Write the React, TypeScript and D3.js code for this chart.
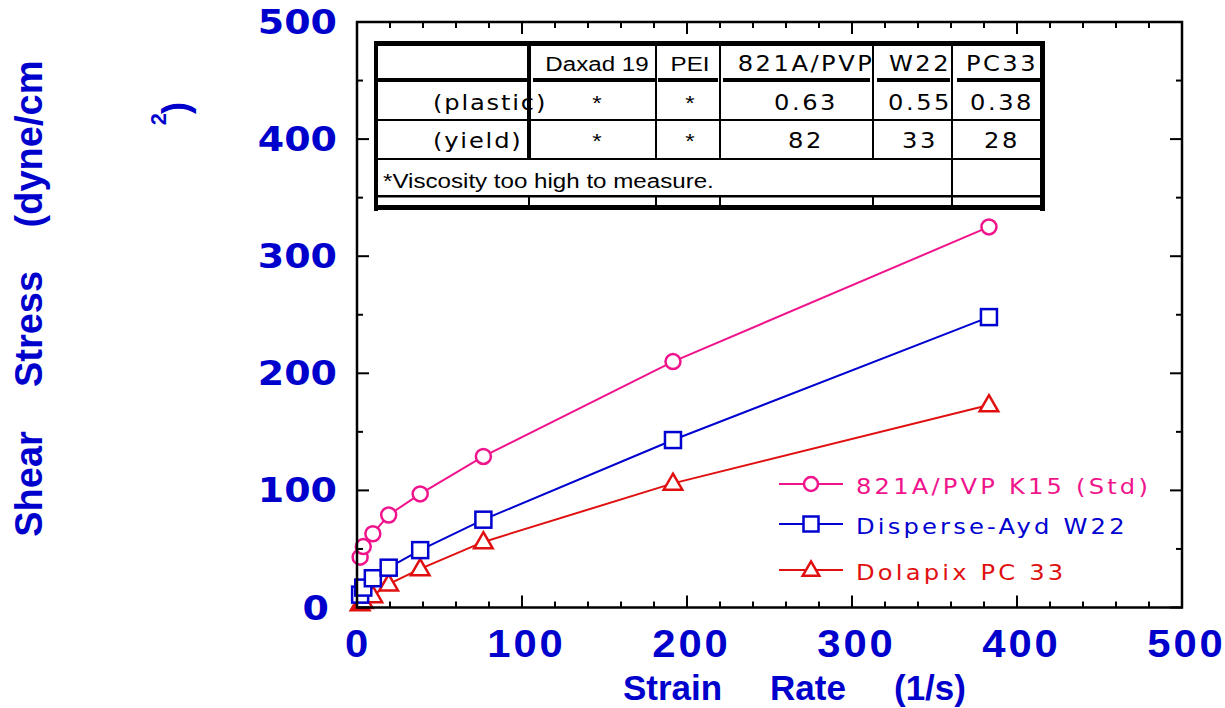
import * as d3 from "d3"

// strain rate (1/s) for each viscometer speed
const strainRate = [1.9, 3.8, 9.6, 19.2, 38.3, 76.6, 191.5, 383]
// shear stress (dyne/cm2)
const pvpK15 = [43, 52, 63, 79, 97, 129, 210, 325]
const disperseAyd = [11, 17, 25, 34, 49, 75, 143, 248]
const dolapix = [3, 5, 10, 20, 33, 56, 106, 173]
const seriesNames = ["821A/PVP K15 (Std)", "Disperse-Ayd W22", "Dolapix PC 33"]

const xTicks = [0, 100, 200, 300, 400, 500]
const yTicks = [0, 100, 200, 300, 400, 500]

const tableHeader = ["", "Daxad 19", "PEI", "821A/PVP", "W22", "PC33"]
const plasticRow = ["(plastic)", "*", "*", "0.63", "0.55", "0.38"]
const yieldRow = ["(yield)", "*", "*", "82", "33", "28"]
const footnote = "*Viscosity too high to measure."

const PINK = "#f0148c"
const BLUE = "#0000d0"
const RED = "#e01010"
const LABEL = "#0000cc"

const W = 1225
const H = 708

export default function App() {
  const x = d3.scaleLinear().domain([0, 500]).range([357, 1182])
  const y = d3.scaleLinear().domain([0, 500]).range([607.5, 22])
  const [x0, x1] = x.range()
  const [y0, y1] = y.range()

  const line = d3
    .line<[number, number]>()
    .x((d) => x(d[0]))
    .y((d) => y(d[1]))

  const tri = d3.symbol().type(d3.symbolTriangle).size(150)()
  const triSmall = d3.symbol().type(d3.symbolTriangle).size(120)()

  const series = [
    { name: seriesNames[2], values: dolapix, color: RED, marker: "triangle" },
    { name: seriesNames[1], values: disperseAyd, color: BLUE, marker: "square" },
    { name: seriesNames[0], values: pvpK15, color: PINK, marker: "circle" },
  ]

  const marker = (kind: string, color: string, cx: number, cy: number, small = false) => {
    const sw = 2.5
    if (kind === "circle")
      return <circle cx={cx} cy={cy} r={small ? 7 : 7.5} fill="white" stroke={color} strokeWidth={sw} />
    if (kind === "square") {
      const s = small ? 15 : 16
      return <rect x={cx - s / 2} y={cy - s / 2} width={s} height={s} fill="white" stroke={color} strokeWidth={sw} />
    }
    return (
      <path d={small ? triSmall! : tri!} transform={`translate(${cx},${cy + 1})`} fill="white" stroke={color} strokeWidth={sw} />
    )
  }

  // ticks (inward on all four sides)
  const xMinor = d3.range(0, 501, 20)
  const yMinor = d3.range(0, 501, 50)

  // table layout
  const tL = 376
  const tR = 1044
  const tTop = 42
  const colLines = [529, 656, 720, 873, 952]
  const colCenters = [0, 597, 690, 806, 920, 1002]
  const headSegs: [number, number][] = [
    [378, 529], [533, 655], [658, 718], [723, 870], [877, 950], [957, 1040],
  ]

  const legendRows = [
    { name: seriesNames[0], color: PINK, marker: "circle", y: 484 },
    { name: seriesNames[1], color: BLUE, marker: "square", y: 524 },
    { name: seriesNames[2], color: RED, marker: "triangle", y: 570 },
  ]

  return (
    <svg width={W} height={H} style={{ position: "absolute", left: 0, top: 0, background: "white" }}>
      {/* series */}
      {series.map((s) => (
        <g key={s.name}>
          <path
            d={line(strainRate.map((v, i) => [v, s.values[i]]))!}
            fill="none"
            stroke={s.color}
            strokeWidth={2}
          />
          {strainRate.map((v, i) => (
            <g key={i}>{marker(s.marker, s.color, x(v), y(s.values[i]))}</g>
          ))}
        </g>
      ))}

      {/* frame */}
      <rect x={x0} y={y1} width={x1 - x0} height={y0 - y1} fill="none" stroke="black" strokeWidth={2.5} />
      {xMinor.map((v) => {
        const len = v % 100 === 0 ? 12 : 6
        return (
          <g key={"xt" + v} stroke="black" strokeWidth={2}>
            <line x1={x(v)} x2={x(v)} y1={y0} y2={y0 - len} />
            <line x1={x(v)} x2={x(v)} y1={y1} y2={y1 + len} />
          </g>
        )
      })}
      {yMinor.map((v) => {
        const len = v % 100 === 0 ? 12 : 6
        return (
          <g key={"yt" + v} stroke="black" strokeWidth={2}>
            <line x1={x0} x2={x0 + len} y1={y(v)} y2={y(v)} />
            <line x1={x1} x2={x1 - len} y1={y(v)} y2={y(v)} />
          </g>
        )
      })}

      {/* tick labels */}
      {yTicks.map((v) => (
        <text
          key={"yl" + v}
          transform={`translate(${v === 0 ? 329 : 337},${y(v) + 12}) scale(1.15,1)`}
          textAnchor="end"
          fontFamily="DejaVu Sans"
          fontWeight="bold"
          fontSize={33}
          fill={LABEL}
        >
          {v}
        </text>
      ))}
      {xTicks.map((v) => (
        <text
          key={"xl" + v}
          transform={`translate(${x(v) + (v === 0 ? 1 : 4.5)},657) scale(1.1,1)`}
          textAnchor="middle"
          fontFamily="Liberation Sans"
          fontWeight="bold"
          fontSize={38}
          letterSpacing={2.7}
          fill={LABEL}
        >
          {v}
        </text>
      ))}

      {/* axis titles */}
      <text fontFamily="Liberation Sans" fontWeight="bold" fontSize={35} fill={LABEL} y={700}>
        <tspan x={623}>Strain</tspan>
        <tspan x={770}>Rate</tspan>
        <tspan x={894}>(1/s)</tspan>
      </text>
      <g fontFamily="Liberation Sans" fontWeight="bold" fontSize={38} fill={LABEL} textAnchor="middle">
        <text transform="translate(42,484) rotate(-90)">Shear</text>
        <text transform="translate(42,329) rotate(-90)">Stress</text>
        <text transform="translate(42,144) rotate(-90)">(dyne/cm</text>
        <text transform="translate(166,119) rotate(-90)" fontSize={22}>2</text>
        <text transform="translate(188,108) rotate(-90)" fontSize={36}>)</text>
      </g>

      {/* legend */}
      {legendRows.map((r) => (
        <g key={r.name}>
          <line x1={779} x2={843} y1={r.y} y2={r.y} stroke={r.color} strokeWidth={2} />
          {marker(r.marker, r.color, 811, r.y, true)}
          <text
            transform={`translate(856,${r.y + 10}) scale(1.1,1)`}
            fontFamily="DejaVu Sans"
            fontSize={22}
            letterSpacing={2.9}
            fill={r.color}
          >
            {r.name}
          </text>
        </g>
      ))}

      {/* table */}
      <g>
        <rect x={tL} y={tTop} width={tR - tL} height={168} fill="white" />
        {headSegs.map(([a, b], i) => (
          <rect key={"hs" + i} x={a} y={78} width={b - a} height={4} fill="black" />
        ))}
        <rect x={tL} y={119} width={tR - tL} height={2} fill="black" />
        <rect x={tL} y={158} width={tR - tL} height={2} fill="black" />
        <rect x={tL} y={195} width={tR - tL} height={2.5} fill="black" />
        {colLines.map((cx, i) => (
          <g key={"cl" + i}>
            <rect
              x={cx - (i === 0 ? 2 : 1)}
              y={tTop}
              width={i === 0 ? 4 : 2}
              height={(i === 4 ? 208 : 159) - tTop}
              fill="black"
            />
            <rect x={cx - 1} y={196} width={2} height={10} fill="black" />
          </g>
        ))}
        <rect x={374} y={41} width={tR - 374 + 1} height={5} fill="black" />
        <rect x={374} y={41} width={4} height={170} fill="black" />
        <rect x={1040} y={41} width={5} height={170} fill="black" />
        <rect x={374} y={205} width={tR - 374 + 1} height={5} fill="black" />

        {[tableHeader, plasticRow, yieldRow].map((row, ri) => {
          const base = [71, 110, 148][ri]
          return row.map((cell, ci) => {
            if (!cell) return null
            const arial = ri === 0 ? ci === 1 || ci === 2 : cell === "*"
            const left = ci === 0
            return (
              <text
                key={`c${ri}-${ci}`}
                transform={`translate(${left ? 433 : colCenters[ci]},${base}) scale(1.15,1)`}
                textAnchor={left ? "start" : "middle"}
                fontFamily={arial ? "Liberation Sans" : "DejaVu Sans"}
                fontSize={21}
                letterSpacing={arial ? 0 : left ? 1.6 : 2.2}
                fill="black"
              >
                {cell}
              </text>
            )
          })
        })}
        <text transform="translate(383,188) scale(1.15,1)" fontFamily="Liberation Sans" fontSize={21} fill="black">
          {footnote}
        </text>
      </g>
    </svg>
  )
}
